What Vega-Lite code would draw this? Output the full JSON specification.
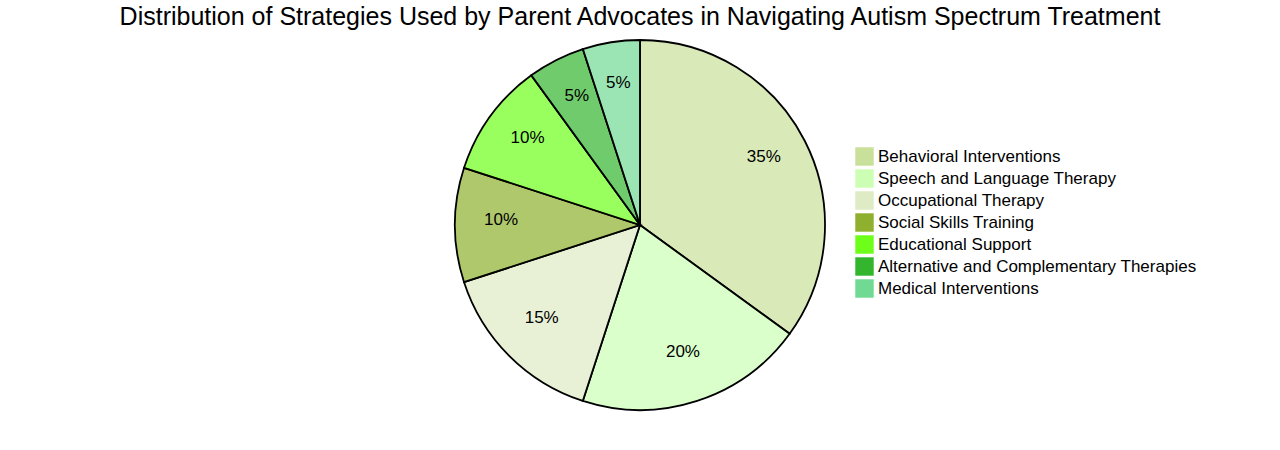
{
  "$schema": "https://vega.github.io/schema/vega-lite/v6.json",
  "width": 1280,
  "height": 370,
  "autosize": "none",
  "padding": {"left": 0, "top": 40, "right": 0, "bottom": 40},
  "background": "white",
  "title": {
    "text": "Distribution of Strategies Used by Parent Advocates in Navigating Autism Spectrum Treatment",
    "fontSize": 25,
    "font": "Liberation Sans",
    "fontWeight": "normal",
    "color": "black",
    "anchor": "middle",
    "offset": 6
  },
  "data": {
    "values": [
      {"strategy": "Behavioral Interventions", "value": 35, "label": "35%", "idx": 1},
      {"strategy": "Speech and Language Therapy", "value": 20, "label": "20%", "idx": 2},
      {"strategy": "Occupational Therapy", "value": 15, "label": "15%", "idx": 3},
      {"strategy": "Social Skills Training", "value": 10, "label": "10%", "idx": 4},
      {"strategy": "Educational Support", "value": 10, "label": "10%", "idx": 5},
      {"strategy": "Alternative and Complementary Therapies", "value": 5, "label": "5%", "idx": 6},
      {"strategy": "Medical Interventions", "value": 5, "label": "5%", "idx": 7}
    ]
  },
  "encoding": {
    "theta": {"field": "value", "type": "quantitative", "stack": true},
    "order": {"field": "idx", "type": "ordinal"}
  },
  "layer": [
    {
      "mark": {"type": "arc", "outerRadius": 185, "fillOpacity": 0.7, "stroke": "black", "strokeWidth": 1.8, "strokeOpacity": 1},
      "encoding": {
        "color": {
          "field": "strategy",
          "type": "nominal",
          "sort": ["Behavioral Interventions", "Speech and Language Therapy", "Occupational Therapy", "Social Skills Training", "Educational Support", "Alternative and Complementary Therapies", "Medical Interventions"],
          "scale": {
            "domain": ["Behavioral Interventions", "Speech and Language Therapy", "Occupational Therapy", "Social Skills Training", "Educational Support", "Alternative and Complementary Therapies", "Medical Interventions"],
            "range": ["#c9e09a", "#ccffb4", "#deebc4", "#8fb02e", "#6dff1a", "#33b52e", "#70da94"]
          },
          "legend": {
            "title": null,
            "orient": "none",
            "legendX": 855,
            "legendY": 107,
            "symbolType": "square",
            "symbolSize": 340,
            "symbolOpacity": 1,
            "symbolFillOpacity": 1,
            "symbolStrokeWidth": 0,
            "labelFontSize": 17,
            "labelFont": "Liberation Sans",
            "labelColor": "black",
            "labelLimit": 0,
            "rowPadding": 3,
            "labelOffset": 4
          }
        }
      }
    },
    {
      "mark": {"type": "text", "radius": 139, "fontSize": 17, "font": "Liberation Sans", "color": "black", "dy": -5},
      "encoding": {
        "text": {"field": "label", "type": "nominal"}
      }
    }
  ]
}
